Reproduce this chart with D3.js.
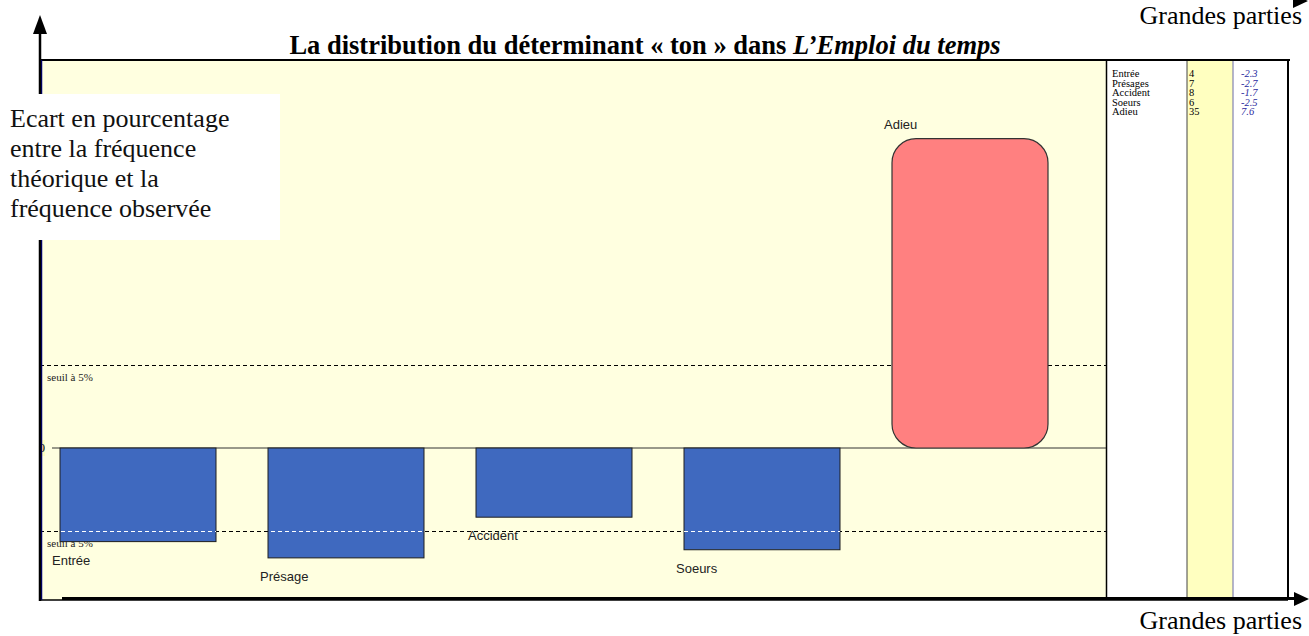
<!DOCTYPE html>
<html>
<head>
<meta charset="utf-8">
<script src="https://cdn.jsdelivr.net/npm/d3@7"></script>
<style>
  body { margin: 0; background: #fff; }
  svg { display: block; }
</style>
</head>
<body>
<div id="chart"></div>
<script>
// valeurs
const categories = ["Entrée", "Présage", "Accident", "Soeurs", "Adieu"];
const ecarts = [-2.3, -2.7, -1.7, -2.5, 7.6];
const tableNoms = ["Entrée", "Présages", "Accident", "Soeurs", "Adieu"];
const effectifs = [4, 7, 8, 6, 35];
const seuil = 2.05;
const titre = "La distribution du déterminant « ton » dans ";
const titreItal = "L\u2019Emploi du temps";
const legendeY = ["Ecart en pourcentage", "entre la fréquence", "théorique et la", "fréquence observée"];

const W = 1309, H = 636;
const plot = {left: 40, right: 1106, top: 60, bottom: 600};
const tableRight = 1288;
const serif = "'Liberation Serif', 'Times New Roman', serif";

var svg = d3.select("#chart").append("svg")
    .attr("width", W)
    .attr("height", H);

var x = d3.scaleBand()
    .domain(categories)
    .range([34, 1074])
    .paddingInner(0.25)
    .paddingOuter(0.125);

var y = d3.scaleLinear()
    .domain([-3.5, 9.5])
    .range([590.45, 61.35]);

// fond
svg.append("rect")
    .attr("x", plot.left).attr("y", plot.top)
    .attr("width", plot.right - plot.left).attr("height", plot.bottom - plot.top)
    .style("fill", "#ffffe0");
svg.append("rect")
    .attr("x", plot.right).attr("y", plot.top)
    .attr("width", tableRight - plot.right).attr("height", plot.bottom - plot.top)
    .style("fill", "#ffffff");
svg.append("rect")
    .attr("x", 1187).attr("y", plot.top)
    .attr("width", 46).attr("height", plot.bottom - plot.top)
    .style("fill", "#ffffc0");
svg.append("line").attr("x1", 1187).attr("x2", 1187).attr("y1", plot.top).attr("y2", plot.bottom)
    .style("stroke", "#444").style("stroke-width", 1);
svg.append("line").attr("x1", 1233).attr("x2", 1233).attr("y1", plot.top).attr("y2", plot.bottom)
    .style("stroke", "#6a6aa8").style("stroke-width", 1);
svg.append("line").attr("x1", plot.right + 0.5).attr("x2", plot.right + 0.5).attr("y1", plot.top).attr("y2", plot.bottom)
    .style("stroke", "#000").style("stroke-width", 1.5);
svg.append("line").attr("x1", tableRight).attr("x2", tableRight).attr("y1", plot.top).attr("y2", plot.bottom)
    .style("stroke", "#000").style("stroke-width", 2);

// seuils
var seuils = [seuil, -seuil];
svg.append("g").selectAll("line")
    .data(seuils)
    .enter().append("line")
    .attr("x1", plot.left).attr("x2", plot.right)
    .attr("y1", d => Math.round(y(d)) + 0.5).attr("y2", d => Math.round(y(d)) + 0.5)
    .style("stroke", "#000")
    .style("stroke-dasharray", "4,3");
svg.append("g").selectAll("text")
    .data(seuils)
    .enter().append("text")
    .attr("x", 47)
    .attr("y", d => y(d) + 16)
    .style("font-family", serif)
    .style("font-size", "11px")
    .style("fill", "#222")
    .text("seuil à 5%");

// ligne du zéro
svg.append("line")
    .attr("x1", 52).attr("x2", plot.right)
    .attr("y1", y(0)).attr("y2", y(0))
    .style("stroke", "#333").style("stroke-width", 1);
svg.append("rect")
    .attr("x", 39).attr("y", y(0) - 8).attr("width", 6).attr("height", 16)
    .style("fill", "#ffffc0");
svg.append("text")
    .attr("x", 45).attr("y", y(0) + 4)
    .attr("text-anchor", "end")
    .style("font-family", serif)
    .style("font-size", "12px")
    .text("0");

// barres
var neg = categories.map((c, i) => ({c: c, v: ecarts[i]})).filter(d => d.v < 0);
var pos = categories.map((c, i) => ({c: c, v: ecarts[i]})).filter(d => d.v >= 0);

svg.append("g").selectAll("rect")
    .data(neg)
    .enter().append("rect")
    .attr("x", d => x(d.c))
    .attr("y", y(0))
    .attr("width", x.bandwidth())
    .attr("height", d => y(d.v) - y(0))
    .style("fill", "#3f69bf")
    .style("stroke", "#1e1e1e")
    .style("stroke-width", 1);

svg.append("g").selectAll("rect")
    .data(pos)
    .enter().append("rect")
    .attr("x", d => x(d.c))
    .attr("y", d => y(d.v))
    .attr("width", x.bandwidth())
    .attr("height", d => y(0) - y(d.v))
    .attr("rx", 24).attr("ry", 24)
    .style("fill", "#ff8080")
    .style("stroke", "#333")
    .style("stroke-width", 1.2);

// pointillés blancs sur les barres bleues
var clip = svg.append("clipPath").attr("id", "clipBarres");
clip.selectAll("rect")
    .data(neg)
    .enter().append("rect")
    .attr("x", d => x(d.c))
    .attr("y", y(0))
    .attr("width", x.bandwidth())
    .attr("height", d => y(d.v) - y(0));
svg.append("g").attr("clip-path", "url(#clipBarres)")
    .selectAll("line")
    .data(seuils)
    .enter().append("line")
    .attr("x1", plot.left).attr("x2", plot.right)
    .attr("y1", d => Math.round(y(d)) + 0.5).attr("y2", d => Math.round(y(d)) + 0.5)
    .style("stroke", "#fff")
    .style("stroke-dasharray", "4,3");

// étiquettes des barres
svg.append("g").selectAll("text")
    .data(categories.map((c, i) => ({c: c, v: ecarts[i]})))
    .enter().append("text")
    .attr("x", d => x(d.c) - 8)
    .attr("y", d => d.v < 0 ? y(d.v) + 23 : y(d.v) - 10)
    .style("font-family", "'Liberation Sans', Arial, sans-serif")
    .style("font-size", "13px")
    .style("fill", "#222")
    .text(d => d.c);

// tableau
var lignes = svg.append("g")
    .style("font-family", serif)
    .style("font-size", "10.5px");
tableNoms.forEach(function(n, i) {
    var yy = 77 + i * 9.5;
    lignes.append("text").attr("x", 1112).attr("y", yy).text(n);
    lignes.append("text").attr("x", 1189).attr("y", yy).text(effectifs[i]);
    lignes.append("text").attr("x", 1241).attr("y", yy)
        .style("fill", "#2a2aa0").style("font-style", "italic")
        .text(ecarts[i].toFixed(1));
});

// cadre et axes
svg.append("line")
    .attr("x1", plot.left).attr("x2", 1290)
    .attr("y1", plot.top).attr("y2", plot.top)
    .style("stroke", "#000").style("stroke-width", 2);
svg.append("line")
    .attr("x1", plot.left).attr("x2", tableRight)
    .attr("y1", plot.bottom).attr("y2", plot.bottom)
    .style("stroke", "#000").style("stroke-width", 1.5);
svg.append("line")
    .attr("x1", 41.5).attr("x2", 41.5)
    .attr("y1", plot.top).attr("y2", plot.bottom)
    .style("stroke", "#000080").style("stroke-width", 1.5);
svg.append("line")
    .attr("x1", 40).attr("x2", 40)
    .attr("y1", 30).attr("y2", plot.bottom + 1)
    .style("stroke", "#000").style("stroke-width", 2.5);
svg.append("path")
    .attr("d", "M33,34 L40,15 L47,34 Z")
    .style("fill", "#000");
svg.append("line")
    .attr("x1", 62).attr("x2", 1298)
    .attr("y1", 598.5).attr("y2", 598.5)
    .style("stroke", "#000").style("stroke-width", 3);
svg.append("path")
    .attr("d", "M1294,592 L1309,599 L1294,606 Z")
    .style("fill", "#000");
svg.append("path")
    .attr("d", "M1293,-6 L1308,1 L1293,8 Z")
    .style("fill", "#000");

// boîte de légende de l'axe
svg.append("rect")
    .attr("x", 0).attr("y", 94).attr("width", 280).attr("height", 146)
    .style("fill", "#fff");
svg.append("g").selectAll("text")
    .data(legendeY)
    .enter().append("text")
    .attr("x", 10)
    .attr("y", (d, i) => 127 + i * 30)
    .style("font-family", serif)
    .style("font-size", "26px")
    .style("fill", "#111")
    .text(d => d);

// titre
var t = svg.append("text")
    .attr("x", 645).attr("y", 54)
    .attr("text-anchor", "middle")
    .style("font-family", serif)
    .style("font-size", "26.5px")
    .style("font-weight", "bold");
t.append("tspan").text(titre);
t.append("tspan").style("font-style", "italic").text(titreItal);

// Grandes parties
svg.append("text")
    .attr("x", 1302).attr("y", 24)
    .attr("text-anchor", "end")
    .style("font-family", serif)
    .style("font-size", "26px")
    .text("Grandes parties");
svg.append("text")
    .attr("x", 1302).attr("y", 629)
    .attr("text-anchor", "end")
    .style("font-family", serif)
    .style("font-size", "26px")
    .text("Grandes parties");
</script>
</body>
</html>
